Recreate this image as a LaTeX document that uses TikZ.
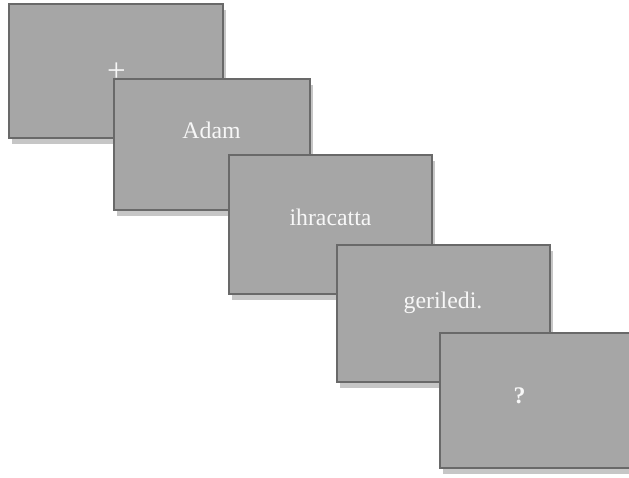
\documentclass[tikz,border=0pt]{standalone}
\usepackage{fontspec}
\setmainfont{Liberation Serif}
\usetikzlibrary{backgrounds}
\definecolor{cardfill}{HTML}{A6A6A6}
\definecolor{carddraw}{HTML}{696969}
\definecolor{cardshadow}{HTML}{C6C6C6}
\definecolor{cardtext}{HTML}{F7F7F7}
\tikzset{
  card/.style={rectangle, inner sep=0pt, outer sep=0pt, fill=cardfill, draw=carddraw, line width=2.7pt},
  cardtxt/.style={anchor=base, inner sep=0pt, text=cardtext, font=\fontsize{23.8}{28}\selectfont},
  cardshade/.style={fill=cardshadow},
}
\newcommand\cardshadowof[1]{%
  \begin{scope}[on background layer]
    \fill[cardshade] ([xshift=3pt,yshift=-6pt]#1.south west) rectangle ([xshift=3pt,yshift=-6pt]#1.north east);
  \end{scope}}
\begin{document}
\begin{tikzpicture}[x=1pt,y=-1pt]
\useasboundingbox (0,0) rectangle (629,477);
\node[card, minimum width=214pt, minimum height=134pt] (c1) at (116,71) {};
\node[cardtxt, font=\fontsize{33}{36}\selectfont] (t1) at (116.5,81.5) {+};
\node[card, minimum width=196pt, minimum height=131pt] (c2) at (212,144.5) {};
\node[cardtxt] (t2) at (211.5,138) {Adam};
\node[card, minimum width=203pt, minimum height=139pt] (c3) at (330.5,224.5) {};
\node[cardtxt] (t3) at (330.5,225) {ihracatta};
\node[card, minimum width=213pt, minimum height=137pt] (c4) at (443.5,313.5) {};
\node[cardtxt] (t4) at (443,308) {geriledi.};
\node[card, minimum width=213pt, minimum height=135pt] (c5) at (546.5,400.5) {};
\node[cardtxt, font=\fontsize{23.8}{28}\selectfont\bfseries] (t5) at (519.5,403) {?};
\cardshadowof{c1}
\cardshadowof{c2}
\cardshadowof{c3}
\cardshadowof{c4}
\cardshadowof{c5}
\end{tikzpicture}
\end{document}
